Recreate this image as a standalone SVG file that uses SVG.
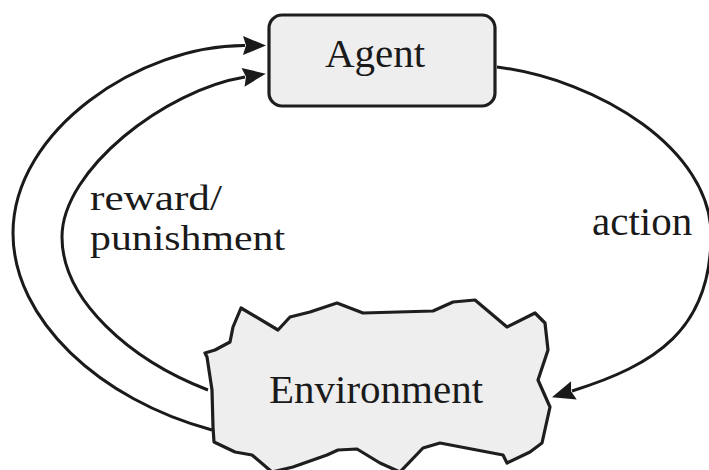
<svg xmlns="http://www.w3.org/2000/svg" width="709" height="470" viewBox="0 0 709 470">
<style>
.lbl{font-family:"Liberation Serif","Times New Roman",serif;font-size:41px;fill:#1a1a1a}
.sm{font-size:36px}
.node{fill:#eeeeee;stroke:#1e1e1e;stroke-width:3.2;stroke-linejoin:round}
.edge{fill:none;stroke:#1a1a1a;stroke-width:3}
</style>
<defs>
<marker id="arr" markerUnits="userSpaceOnUse" viewBox="-1 -11 26 22" markerWidth="26" markerHeight="22" refX="2" refY="0" orient="auto">
<path d="M0,-9.5 L23,0 L0,9.5 L3,0 Z" fill="#1a1a1a"/>
</marker>
</defs>
<rect width="709" height="470" fill="#ffffff"/>
<g id="connectors">
<path class="edge" d="M212,430 C100,400 13,320 13,233 C13,130 140,45 245,45.5" marker-end="url(#arr)"/>
<path class="edge" d="M208,390 C130,360 62,300 62,237 C62,170 165,90 245,77" marker-end="url(#arr)"/>
<path class="edge" d="M497,67 C600,80 711,150 711,235 C711,330 655,365 572,391" marker-end="url(#arr)"/>
</g>
<g id="agent">
<rect class="node" x="269" y="15" width="226" height="91" rx="13"/>
<text class="lbl" x="375" y="67" text-anchor="middle">Agent</text>
</g>
<g id="environment">
<path class="node" d="M205,353 L215,350 L230,342 L233,327 L241,308 L278,330 L290,317 L310,312 L337,303 L363,313 L433,311 L453,302 L475,300 L507,327 L535,313 L545,323 L548,350 L538,380 L550,407 L542,443 L530,452 L507,463 L503,455 L440,443 L423,448 L400,472 L380,463 L357,449 L338,450 L327,455 L293,467 L272,472 L252,455 L235,452 L214,442 L213,427 L212,390 L207,357 Z"/>
<text class="lbl" x="376" y="403" text-anchor="middle">Environment</text>
</g>
<g id="labels">
<text class="lbl sm" x="90" y="210" textLength="132" lengthAdjust="spacingAndGlyphs">reward/</text>
<text class="lbl sm" x="90" y="250" textLength="195" lengthAdjust="spacingAndGlyphs">punishment</text>
<text class="lbl" x="592" y="235">action</text>
</g>
</svg>
